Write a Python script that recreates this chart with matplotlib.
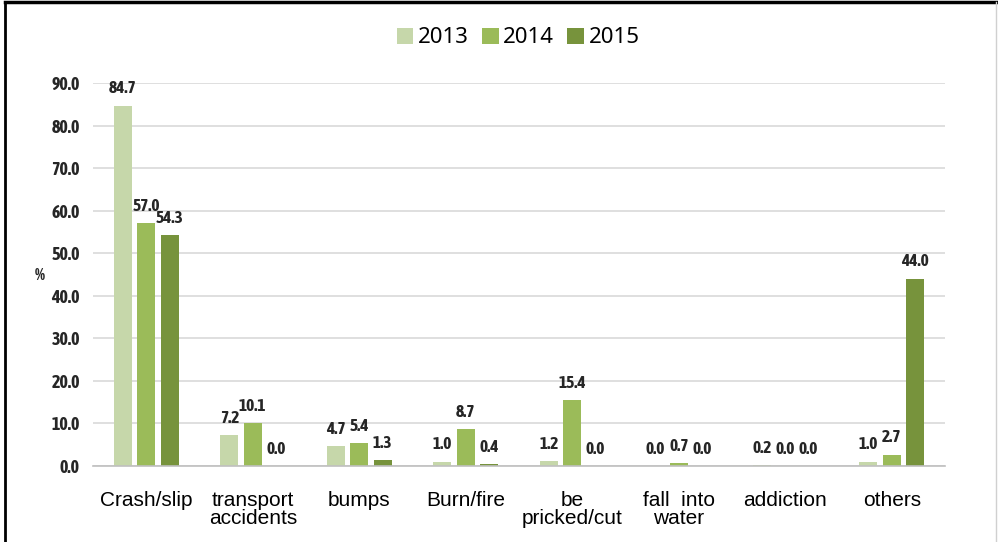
import matplotlib
matplotlib.use("Agg")
import matplotlib.pyplot as plt
import numpy as np
from matplotlib.lines import Line2D
from matplotlib.patches import Patch

categories = ["Crash/slip", "transport\naccidents", "bumps", "Burn/fire",
              "be\npricked/cut", "fall  into\nwater", "addiction", "others"]
years = ["2013", "2014", "2015"]
v2013 = [84.7, 7.2, 4.7, 1.0, 1.2, 0.0, 0.2, 1.0]
v2014 = [57.0, 10.1, 5.4, 8.7, 15.4, 0.7, 0.0, 2.7]
v2015 = [54.3, 0.0, 1.3, 0.4, 0.0, 0.0, 0.0, 44.0]
yticks = [0, 10, 20, 30, 40, 50, 60, 70, 80, 90]

colors = ["#c6d7aa", "#9bbb59", "#77933c"]
num_font = ["Asap Condensed", "Liberation Sans Narrow", "DejaVu Sans"]

fig = plt.figure(figsize=(9.98, 5.42), dpi=100)
ax = fig.add_axes([93/998, 1-466/542, (945-93)/998, (466-83)/542])

x = np.arange(len(categories))
step = 0.22
width = 0.17
series = [v2013, v2014, v2015]
for i, (vals, c, yr) in enumerate(zip(series, colors, years)):
    pos = x + (i - 1) * step
    ax.bar(pos, vals, width=width, color=c, label=yr, zorder=3)
    for p, v in zip(pos, vals):
        ax.text(p, v + 2.2, f"{v:.1f}", ha="center", va="bottom",
                fontsize=12.5, fontweight="bold", family=num_font,
                color="#262626", clip_on=False, zorder=4)

ax.set_xlim(-0.5, len(categories) - 0.5)
ax.set_ylim(0, 90)
ax.set_yticks(yticks)
ax.set_yticklabels([f"{t:.1f}" for t in yticks], fontsize=13,
                   fontweight="bold", family=num_font, color="#262626")
ax.set_xticks(x)
ax.set_xticklabels(categories, fontsize=15, family=["Liberation Sans", "DejaVu Sans"],
                   linespacing=0.9, va="top")
ax.tick_params(axis="y", length=0, pad=9.5)
ax.tick_params(axis="x", length=0, pad=18)
ax.grid(axis="y", color="#d9d9d9", linewidth=1.2, zorder=0)
for s in ["top", "right", "left"]:
    ax.spines[s].set_visible(False)
ax.spines["bottom"].set_color("#bfbfbf")
ax.spines["bottom"].set_linewidth(1.2)
ax.spines["bottom"].set_zorder(3.5)

fig.text(40/998, 1-275/542, "%", fontsize=11.5, fontweight="bold",
         family=num_font, ha="center", va="center", color="#262626")

handles = [Patch(facecolor=c, edgecolor="none") for c in colors]
fig.legend(handles, years, loc="center", bbox_to_anchor=(518/998, 1-38/542),
           ncol=3, frameon=False, handlelength=0.75, handleheight=0.75,
           handletextpad=0.2, columnspacing=0.6,
           prop={"family": ["Noto Sans", "DejaVu Sans"], "size": 16})

# outer frame
fig.add_artist(Line2D([4.5/998, 4.5/998], [0, 1-1.5/542], transform=fig.transFigure,
                      color="black", linewidth=2))
fig.add_artist(Line2D([4.5/998, 1], [1-1.5/542, 1-1.5/542], transform=fig.transFigure,
                      color="black", linewidth=2.5))
fig.add_artist(Line2D([996/998, 996/998], [0, 1-1.5/542], transform=fig.transFigure,
                      color="#d0d0d0", linewidth=1))

fig.savefig("out.png", dpi=100)
